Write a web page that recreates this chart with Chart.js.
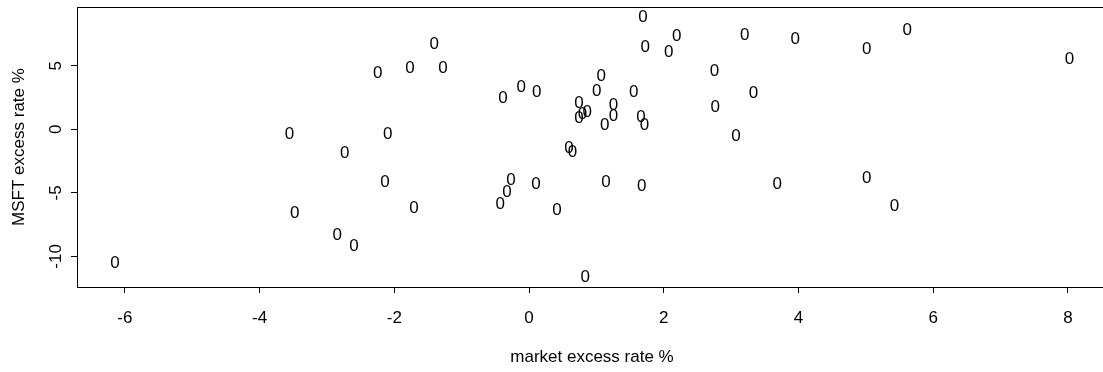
<!DOCTYPE html>
<html>
<head>
<meta charset="utf-8">
<script src="https://cdn.jsdelivr.net/npm/chart.js@4/dist/chart.umd.min.js"></script>
<style>
  html, body { margin: 0; padding: 0; background: #fff; }
  #wrap { width: 1103px; height: 372px; overflow: hidden; position: relative; }
  canvas { display: block; }
</style>
</head>
<body>
<div id="wrap"><canvas id="c" width="1108" height="372"></canvas></div>
<script>
// Monthly excess returns (%) of the market and of MSFT
const marketExcess = [
  -1.41, -2.25, -1.77, -1.28, -3.56, -2.10, -2.74, -2.14, -1.71, -3.48, -2.85, -2.60, -6.15,
   1.69,  2.19,  1.72,  2.07,  3.20,  3.95,  2.75,  1.07, -0.12, -0.39,  0.11,  1.00,  1.55,
   3.33,  0.74,  1.25,  2.76,  0.86,  0.79,  0.74,  1.25,  1.66,  1.12,  1.71,  3.07,  0.59,
   0.64, -0.27, -0.33, -0.43,  0.10,  1.14,  1.67,  0.41,  3.68,  0.83,  5.61,  5.01,  8.02,
   5.01,  5.42
];
const msftExcess = [
   6.80,  4.50,  4.87,  4.87, -0.31, -0.31, -1.81, -4.06, -6.08, -6.50, -8.25, -9.09, -10.45,
   8.90,  7.43,  6.57,  6.18,  7.49,  7.20,  4.66,  4.27,  3.40,  2.51,  3.03,  3.09,  3.01,
   2.93,  2.17,  1.99,  1.83,  1.46,  1.26,  0.99,  1.15,  1.07,  0.42,  0.42, -0.45, -1.37,
  -1.68, -3.90, -4.85, -5.77, -4.19, -4.06, -4.38, -6.26, -4.19, -11.52,  7.88,  6.41,  5.58,
  -3.72, -5.95
];
const xTicks = [-6, -4, -2, 0, 2, 4, 6, 8];
const yTicks = [-10, -5, 0, 5];
const xRange = [-6.71, 8.58];
const yRange = [-12.41, 9.63];
const pointSymbol = '0';

const FONT = '"Liberation Sans", Arial, Helvetica, sans-serif';
const FONT_SIZE = 17;

const points = marketExcess.map((x, i) => ({ x: x, y: msftExcess[i] }));

// Draws the plotting symbol as text, ink-centred on each point element
const symbolPlugin = {
  id: 'symbols',
  afterDatasetsDraw(chart) {
    const ctx = chart.ctx;
    ctx.save();
    ctx.font = FONT_SIZE + 'px ' + FONT;
    ctx.fillStyle = '#000';
    ctx.textAlign = 'left';
    ctx.textBaseline = 'alphabetic';
    const m = ctx.measureText(pointSymbol);
    const dx = (m.actualBoundingBoxRight - m.actualBoundingBoxLeft) / 2;
    const dy = (m.actualBoundingBoxAscent - m.actualBoundingBoxDescent) / 2;
    chart.getDatasetMeta(0).data.forEach(el => {
      ctx.fillText(pointSymbol, el.x - dx, el.y + dy);
    });
    ctx.restore();
  }
};

// Frame around the plotting region
const boxPlugin = {
  id: 'box',
  afterDraw(chart) {
    const a = chart.chartArea, ctx = chart.ctx;
    ctx.save();
    ctx.strokeStyle = '#000';
    ctx.lineWidth = 1;
    ctx.strokeRect(Math.round(a.left) + 0.5, Math.round(a.top) + 0.5,
                   Math.round(a.right - a.left), Math.round(a.bottom - a.top));
    ctx.restore();
  }
};

document.fonts.load(FONT_SIZE + 'px "Liberation Sans"').then(draw, draw);

function draw() {
  new Chart(document.getElementById('c'), {
    type: 'scatter',
    data: {
      datasets: [{
        data: points,
        pointRadius: 0,
        pointHoverRadius: 0
      }]
    },
    plugins: [symbolPlugin, boxPlugin],
    options: {
      responsive: false,
      animation: false,
      events: [],
      layout: { autoPadding: false, padding: { top: 7, right: 1, left: 0, bottom: 0 } },
      plugins: { legend: { display: false }, tooltip: { enabled: false } },
      scales: {
        x: {
          type: 'linear',
          min: xRange[0], max: xRange[1],
          afterBuildTicks: s => { s.ticks = xTicks.map(v => ({ value: v })); },
          afterFit: s => { s.height = 85; s.paddingLeft = 0; s.paddingRight = 0; },
          border: { display: false },
          grid: { drawOnChartArea: false, drawTicks: true, tickLength: 6, color: '#000', lineWidth: 1 },
          ticks: { color: '#000', font: { family: FONT, size: FONT_SIZE }, padding: 15, maxRotation: 0, autoSkip: false },
          title: { display: true, text: 'market excess rate %', color: '#000',
                   font: { family: FONT, size: FONT_SIZE }, padding: { top: 0, bottom: 4 } }
        },
        y: {
          type: 'linear',
          min: yRange[0], max: yRange[1],
          afterBuildTicks: s => { s.ticks = yTicks.map(v => ({ value: v })); },
          afterFit: s => { s.width = 77; s.paddingTop = 0; s.paddingBottom = 0; },
          border: { display: false },
          grid: { drawOnChartArea: false, drawTicks: true, tickLength: 6, color: '#000', lineWidth: 1 },
          ticks: { color: '#000', font: { family: FONT, size: FONT_SIZE }, padding: 2.5,
                   minRotation: 90, maxRotation: 90, crossAlign: 'center', autoSkip: false },
          title: { display: true, text: 'MSFT excess rate %', color: '#000',
                   font: { family: FONT, size: FONT_SIZE }, padding: { top: 9, bottom: 0 } }
        }
      }
    }
  });
}
</script>
</body>
</html>
